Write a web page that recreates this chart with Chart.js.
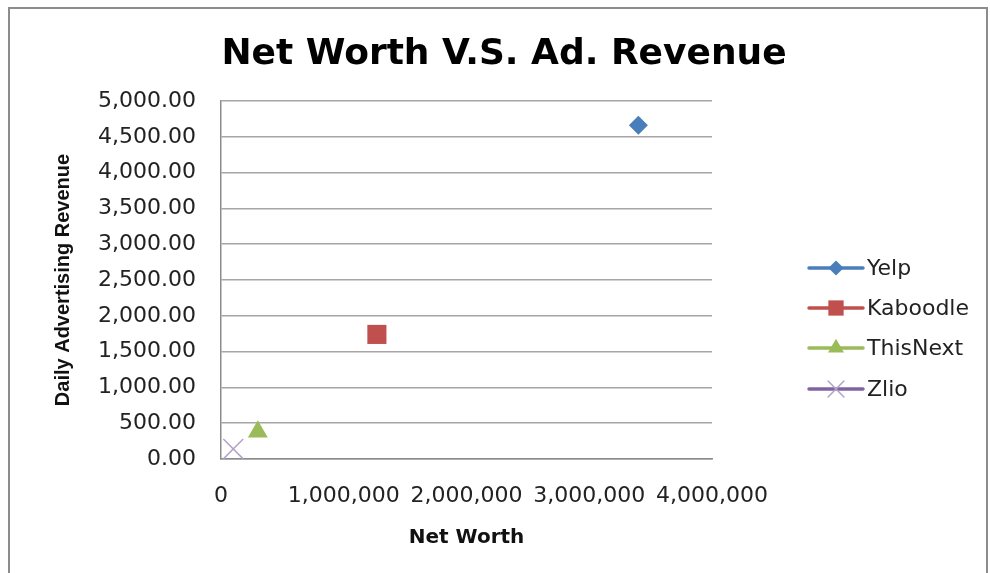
<!DOCTYPE html>
<html>
<head>
<meta charset="utf-8">
<script src="https://cdn.jsdelivr.net/npm/chart.js@4/dist/chart.umd.min.js"></script>
<style>
  body { margin: 0; background: #fff; }
  canvas { display: block; }
</style>
</head>
<body>
<canvas id="chart" width="990" height="573"></canvas>
<script>
// data
const seriesNames = ['Yelp', 'Kaboodle', 'ThisNext', 'Zlio'];
const netWorth = [3400000, 1270000, 300000, 100000];
const adRevenue = [4660, 1740, 380, 140];
const xTicks = [0, 1000000, 2000000, 3000000, 4000000];
const yTicks = [0, 500, 1000, 1500, 2000, 2500, 3000, 3500, 4000, 4500, 5000];

const colors = ['#4a7ebb', '#c0504d', '#9bbb59', '#8064a2'];
const markerColors = ['#4a7ebb', '#c0504d', '#9bbb59', '#b3a2c7'];
const styles = ['rectRot', 'rect', 'triangle', 'crossRot'];
const radii = [9.5, 13.5, 11.5, 14];

const datasets = seriesNames.map((name, i) => ({
    label: name,
    data: [{ x: netWorth[i], y: adRevenue[i] }],
    pointStyle: styles[i],
    pointRadius: radii[i],
    pointHoverRadius: radii[i],
    backgroundColor: markerColors[i],
    borderColor: markerColors[i],
    borderWidth: i === 3 ? 1.5 : 0,
    showLine: false,
    clip: false
}));

// frame, title and legend
const decor = {
    id: 'decor',
    afterDraw(chart) {
        const ctx = chart.ctx;
        ctx.save();
        ctx.strokeStyle = '#8c8c8c';
        ctx.lineWidth = 2;
        ctx.strokeRect(9, 8, 978, 580);

        ctx.fillStyle = '#000';
        ctx.font = 'bold 36px "DejaVu Sans"';
        ctx.textAlign = 'center';
        ctx.textBaseline = 'alphabetic';
        ctx.fillText('Net Worth V.S. Ad. Revenue', 504, 64);

        const rows = [268, 308, 348, 389];
        seriesNames.forEach((name, i) => {
            const y = rows[i];
            ctx.strokeStyle = colors[i];
            ctx.lineWidth = 3.5;
            ctx.lineCap = 'round';
            ctx.beginPath();
            ctx.moveTo(809, y);
            ctx.lineTo(863, y);
            ctx.stroke();
            ctx.fillStyle = markerColors[i];
            ctx.strokeStyle = markerColors[i];
            ctx.lineWidth = i === 3 ? 1.5 : 0;
            if (Chart.helpers && Chart.helpers.drawPoint) {
                Chart.helpers.drawPoint(ctx, {
                    pointStyle: styles[i],
                    radius: radii[i] * 0.8,
                    rotation: 0,
                    borderWidth: i === 3 ? 1.5 : 0
                }, 836, y);
            }
            ctx.fillStyle = '#222';
            ctx.font = '22px "DejaVu Sans"';
            ctx.textAlign = 'left';
            ctx.textBaseline = 'middle';
            ctx.fillText(name, 867, y + 1);
        });
        ctx.restore();
    }
};

new Chart(document.getElementById('chart'), {
    type: 'scatter',
    data: { datasets },
    options: {
        responsive: false,
        animation: false,
        devicePixelRatio: 1,
        layout: { padding: { top: 101, left: 0, right: 278, bottom: 0 } },
        plugins: {
            legend: { display: false },
            tooltip: { enabled: false },
            title: { display: false }
        },
        scales: {
            x: {
                type: 'linear',
                min: 0,
                max: 4000000,
                afterBuildTicks: s => { s.ticks = xTicks.map(v => ({ value: v })); },
                afterFit: s => { s.height = 114; },
                grid: { display: false, drawTicks: false },
                border: { display: true, color: '#8c8c8c', width: 1.5 },
                ticks: {
                    padding: 24,
                    color: '#222',
                    font: { family: 'DejaVu Sans', size: 22 },
                    maxRotation: 0,
                    autoSkip: false,
                    callback: v => v.toLocaleString('en-US')
                },
                title: {
                    display: true,
                    text: 'Net Worth',
                    color: '#111',
                    font: { family: 'DejaVu Sans', size: 20, weight: 'bold' },
                    padding: { top: 0, bottom: 23 }
                }
            },
            y: {
                type: 'linear',
                min: 0,
                max: 5000,
                afterBuildTicks: s => { s.ticks = yTicks.map(v => ({ value: v })); },
                afterFit: s => { s.width = 221; },
                grid: { color: '#a6a6a6', lineWidth: 1.5, drawTicks: false },
                border: { display: true, color: '#8c8c8c', width: 1.5 },
                ticks: {
                    padding: 25,
                    color: '#222',
                    font: { family: 'DejaVu Sans', size: 22 },
                    autoSkip: false,
                    callback: v => v.toLocaleString('en-US', { minimumFractionDigits: 2, maximumFractionDigits: 2 })
                },
                title: {
                    display: true,
                    text: 'Daily Advertising Revenue',
                    color: '#111',
                    font: { family: 'Liberation Sans', size: 20, weight: 'bold' },
                    padding: { top: 51, bottom: 0 }
                }
            }
        }
    },
    plugins: [decor]
});
</script>
</body>
</html>
